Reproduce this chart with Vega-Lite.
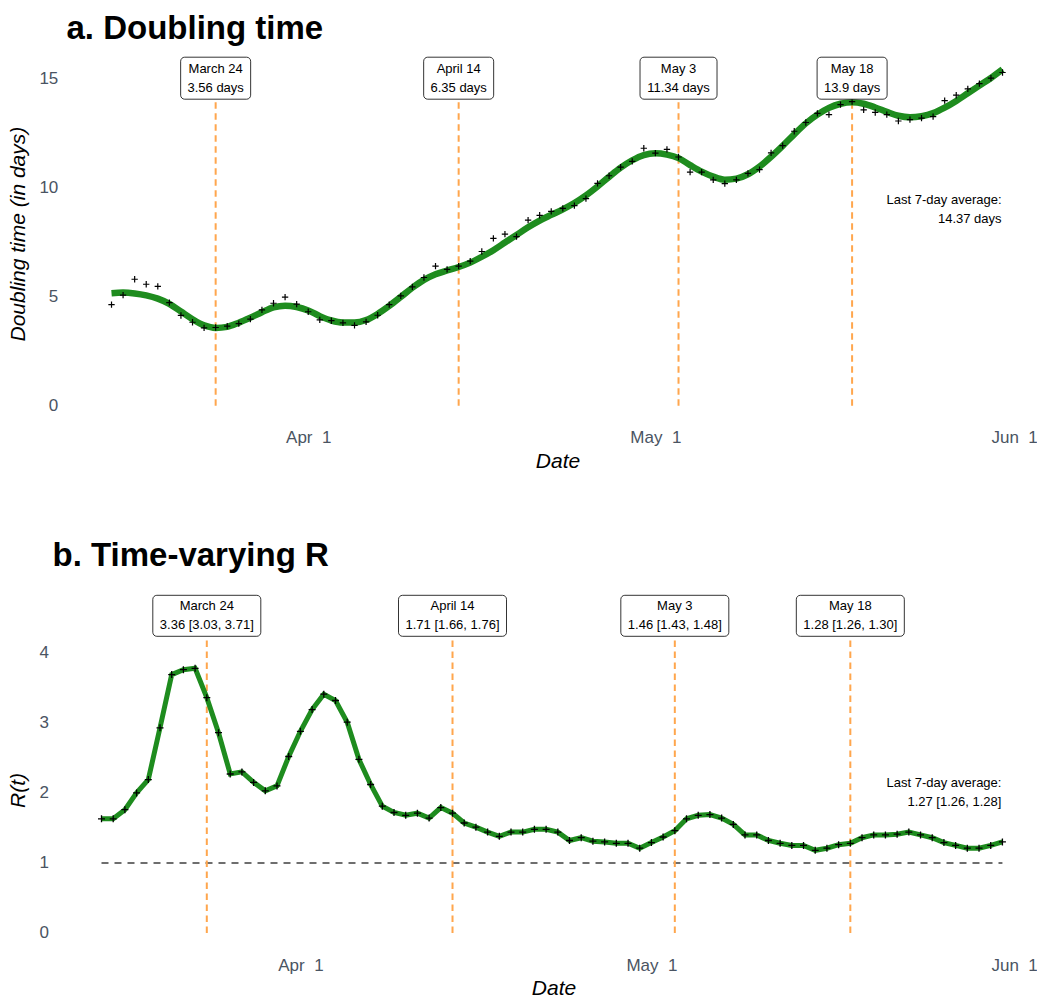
{
  "$schema": "https://vega.github.io/schema/vega-lite/v6.json",
  "padding": {"left": 7.5, "top": 12, "right": 5, "bottom": 0},
  "background": "white",
  "spacing": 67,
  "datasets": {
    "daily": [
      {"date": "2020-03-15", "dt": 4.63, "dt_smooth": 5.15, "R": 1.63},
      {"date": "2020-03-16", "dt": 5.06, "dt_smooth": 5.18, "R": 1.63},
      {"date": "2020-03-17", "dt": 5.79, "dt_smooth": 5.14, "R": 1.76},
      {"date": "2020-03-18", "dt": 5.56, "dt_smooth": 5.05, "R": 2.00},
      {"date": "2020-03-19", "dt": 5.46, "dt_smooth": 4.90, "R": 2.19},
      {"date": "2020-03-20", "dt": 4.72, "dt_smooth": 4.66, "R": 2.93},
      {"date": "2020-03-21", "dt": 4.13, "dt_smooth": 4.31, "R": 3.69},
      {"date": "2020-03-22", "dt": 3.82, "dt_smooth": 3.96, "R": 3.76},
      {"date": "2020-03-23", "dt": 3.56, "dt_smooth": 3.68, "R": 3.78},
      {"date": "2020-03-24", "dt": 3.58, "dt_smooth": 3.56, "R": 3.36},
      {"date": "2020-03-25", "dt": 3.64, "dt_smooth": 3.61, "R": 2.86},
      {"date": "2020-03-26", "dt": 3.76, "dt_smooth": 3.80, "R": 2.27},
      {"date": "2020-03-27", "dt": 3.96, "dt_smooth": 4.03, "R": 2.30},
      {"date": "2020-03-28", "dt": 4.39, "dt_smooth": 4.28, "R": 2.15},
      {"date": "2020-03-29", "dt": 4.69, "dt_smooth": 4.50, "R": 2.03},
      {"date": "2020-03-30", "dt": 4.97, "dt_smooth": 4.58, "R": 2.10},
      {"date": "2020-03-31", "dt": 4.65, "dt_smooth": 4.52, "R": 2.52},
      {"date": "2020-04-01", "dt": 4.30, "dt_smooth": 4.36, "R": 2.88},
      {"date": "2020-04-02", "dt": 3.93, "dt_smooth": 4.10, "R": 3.19},
      {"date": "2020-04-03", "dt": 3.89, "dt_smooth": 3.90, "R": 3.41},
      {"date": "2020-04-04", "dt": 3.79, "dt_smooth": 3.81, "R": 3.32},
      {"date": "2020-04-05", "dt": 3.68, "dt_smooth": 3.81, "R": 3.01},
      {"date": "2020-04-06", "dt": 3.84, "dt_smooth": 3.92, "R": 2.48},
      {"date": "2020-04-07", "dt": 4.14, "dt_smooth": 4.20, "R": 2.12},
      {"date": "2020-04-08", "dt": 4.63, "dt_smooth": 4.57, "R": 1.81},
      {"date": "2020-04-09", "dt": 5.03, "dt_smooth": 4.98, "R": 1.72},
      {"date": "2020-04-10", "dt": 5.44, "dt_smooth": 5.40, "R": 1.68},
      {"date": "2020-04-11", "dt": 5.87, "dt_smooth": 5.76, "R": 1.71},
      {"date": "2020-04-12", "dt": 6.39, "dt_smooth": 6.02, "R": 1.64},
      {"date": "2020-04-13", "dt": 6.24, "dt_smooth": 6.19, "R": 1.79},
      {"date": "2020-04-14", "dt": 6.39, "dt_smooth": 6.35, "R": 1.71},
      {"date": "2020-04-15", "dt": 6.62, "dt_smooth": 6.55, "R": 1.57},
      {"date": "2020-04-16", "dt": 7.06, "dt_smooth": 6.82, "R": 1.51},
      {"date": "2020-04-17", "dt": 7.66, "dt_smooth": 7.12, "R": 1.44},
      {"date": "2020-04-18", "dt": 7.86, "dt_smooth": 7.47, "R": 1.38},
      {"date": "2020-04-19", "dt": 7.74, "dt_smooth": 7.82, "R": 1.44},
      {"date": "2020-04-20", "dt": 8.50, "dt_smooth": 8.17, "R": 1.44},
      {"date": "2020-04-21", "dt": 8.72, "dt_smooth": 8.48, "R": 1.48},
      {"date": "2020-04-22", "dt": 8.90, "dt_smooth": 8.74, "R": 1.48},
      {"date": "2020-04-23", "dt": 9.04, "dt_smooth": 8.99, "R": 1.44},
      {"date": "2020-04-24", "dt": 9.16, "dt_smooth": 9.28, "R": 1.32},
      {"date": "2020-04-25", "dt": 9.48, "dt_smooth": 9.63, "R": 1.36},
      {"date": "2020-04-26", "dt": 10.18, "dt_smooth": 10.04, "R": 1.31},
      {"date": "2020-04-27", "dt": 10.53, "dt_smooth": 10.48, "R": 1.30},
      {"date": "2020-04-28", "dt": 10.93, "dt_smooth": 10.90, "R": 1.28},
      {"date": "2020-04-29", "dt": 11.19, "dt_smooth": 11.24, "R": 1.28},
      {"date": "2020-04-30", "dt": 11.79, "dt_smooth": 11.48, "R": 1.21},
      {"date": "2020-05-01", "dt": 11.57, "dt_smooth": 11.56, "R": 1.29},
      {"date": "2020-05-02", "dt": 11.74, "dt_smooth": 11.50, "R": 1.37},
      {"date": "2020-05-03", "dt": 11.39, "dt_smooth": 11.34, "R": 1.46},
      {"date": "2020-05-04", "dt": 10.70, "dt_smooth": 11.02, "R": 1.63},
      {"date": "2020-05-05", "dt": 10.70, "dt_smooth": 10.72, "R": 1.68},
      {"date": "2020-05-06", "dt": 10.34, "dt_smooth": 10.49, "R": 1.69},
      {"date": "2020-05-07", "dt": 10.17, "dt_smooth": 10.35, "R": 1.64},
      {"date": "2020-05-08", "dt": 10.34, "dt_smooth": 10.40, "R": 1.55},
      {"date": "2020-05-09", "dt": 10.64, "dt_smooth": 10.60, "R": 1.40},
      {"date": "2020-05-10", "dt": 10.81, "dt_smooth": 10.95, "R": 1.40},
      {"date": "2020-05-11", "dt": 11.58, "dt_smooth": 11.40, "R": 1.32},
      {"date": "2020-05-12", "dt": 11.91, "dt_smooth": 11.90, "R": 1.28},
      {"date": "2020-05-13", "dt": 12.57, "dt_smooth": 12.43, "R": 1.25},
      {"date": "2020-05-14", "dt": 12.97, "dt_smooth": 12.93, "R": 1.25},
      {"date": "2020-05-15", "dt": 13.39, "dt_smooth": 13.33, "R": 1.18},
      {"date": "2020-05-16", "dt": 13.33, "dt_smooth": 13.64, "R": 1.21},
      {"date": "2020-05-17", "dt": 13.79, "dt_smooth": 13.83, "R": 1.26},
      {"date": "2020-05-18", "dt": 13.93, "dt_smooth": 13.90, "R": 1.28},
      {"date": "2020-05-19", "dt": 13.55, "dt_smooth": 13.83, "R": 1.36},
      {"date": "2020-05-20", "dt": 13.43, "dt_smooth": 13.66, "R": 1.40},
      {"date": "2020-05-21", "dt": 13.33, "dt_smooth": 13.46, "R": 1.40},
      {"date": "2020-05-22", "dt": 13.04, "dt_smooth": 13.28, "R": 1.41},
      {"date": "2020-05-23", "dt": 13.10, "dt_smooth": 13.21, "R": 1.44},
      {"date": "2020-05-24", "dt": 13.17, "dt_smooth": 13.26, "R": 1.40},
      {"date": "2020-05-25", "dt": 13.24, "dt_smooth": 13.40, "R": 1.36},
      {"date": "2020-05-26", "dt": 13.97, "dt_smooth": 13.65, "R": 1.29},
      {"date": "2020-05-27", "dt": 14.22, "dt_smooth": 13.96, "R": 1.25},
      {"date": "2020-05-28", "dt": 14.51, "dt_smooth": 14.31, "R": 1.21},
      {"date": "2020-05-29", "dt": 14.75, "dt_smooth": 14.66, "R": 1.21},
      {"date": "2020-05-30", "dt": 15.00, "dt_smooth": 15.01, "R": 1.25},
      {"date": "2020-05-31", "dt": 15.26, "dt_smooth": 15.40, "R": 1.30}
    ],
    "topLabels": [
      {"date": "2020-03-24", "event": "March 24", "text": "March 24\n3.56 days"},
      {"date": "2020-04-14", "event": "April 14", "text": "April 14\n6.35 days"},
      {"date": "2020-05-03", "event": "May 3", "text": "May 3\n11.34 days"},
      {"date": "2020-05-18", "event": "May 18", "text": "May 18\n13.9 days"}
    ],
    "botLabels": [
      {"date": "2020-03-24", "event": "March 24", "text": "March 24\n3.36 [3.03, 3.71]"},
      {"date": "2020-04-14", "event": "April 14", "text": "April 14\n1.71 [1.66, 1.76]"},
      {"date": "2020-05-03", "event": "May 3", "text": "May 3\n1.46 [1.43, 1.48]"},
      {"date": "2020-05-18", "event": "May 18", "text": "May 18\n1.28 [1.26, 1.30]"}
    ],
    "avg": [
      {"date": "2020-05-31", "panel": "a", "text": "Last 7-day average:\n14.37 days"},
      {"date": "2020-05-31", "panel": "b", "text": "Last 7-day average:\n1.27 [1.26, 1.28]"}
    ],
    "threshold": [
      {"date": "2020-03-15", "date2": "2020-05-31"}
    ]
  },
  "vconcat": [
    {
      "width": 970,
      "height": 370,
      "title": {"text": "a. Doubling time", "anchor": "start", "frame": "group", "fontSize": 33, "fontWeight": "bold", "font": "Liberation Sans", "color": "black", "baseline": "alphabetic", "offset": -19.5, "dx": 4},
      "encoding": {
        "x": {
          "field": "date", "type": "temporal", "title": "Date",
          "scale": {"type": "utc", "domain": [
            {"year": 2020, "month": 3, "date": 10, "hours": 18, "minutes": 21, "utc": true},
            {"year": 2020, "month": 6, "date": 2, "hours": 14, "minutes": 10, "utc": true}
          ]},
          "axis": {
            "values": [
              {"year": 2020, "month": 4, "date": 1, "utc": true},
              {"year": 2020, "month": 5, "date": 1, "utc": true},
              {"year": 2020, "month": 6, "date": 1, "utc": true}
            ],
            "format": "%b\u00a0\u00a0%-d", "labelPadding": 7.4, "titlePadding": 4.7, "titleX": 495
          }
        }
      },
      "layer": [
        {
          "data": {"name": "topLabels"},
          "mark": {"type": "rule", "color": "#FFA64D", "strokeWidth": 2, "strokeDash": [6.5, 4.5]},
          "encoding": {"y": {"datum": 0}, "y2": {"datum": 15}}
        },
        {
          "data": {"name": "daily"},
          "mark": {"type": "line", "color": "#1E8C1E", "strokeWidth": 6.5, "interpolate": "monotone"},
          "encoding": {
            "y": {
              "field": "dt_smooth", "type": "quantitative", "title": "Doubling time (in days)",
              "scale": {"domain": [-0.75, 16.2], "nice": false, "zero": false},
              "axis": {"values": [0, 5, 10, 15], "format": "d", "labelPadding": 4.7, "titleX": -44, "titleY": 181.6, "titleBaseline": "middle"}
            }
          }
        },
        {
          "data": {"name": "daily"},
          "mark": {"type": "point", "shape": "M-1,0L1,0M0,-1L0,1", "filled": false, "stroke": "black", "strokeWidth": 1.2, "size": 40, "opacity": 1},
          "encoding": {"y": {"field": "dt", "type": "quantitative", "title": "Doubling time (in days)"}}
        },
        {
          "data": {"name": "topLabels"},
          "transform": [{"filter": "datum.event != 'May 3'"}],
          "mark": {"type": "rect", "width": 70, "height": 42, "fill": "white", "stroke": "black", "strokeWidth": 0.8, "cornerRadius": 4},
          "encoding": {"y": {"datum": 15}}
        },
        {
          "data": {"name": "topLabels"},
          "transform": [{"filter": "datum.event == 'May 3'"}],
          "mark": {"type": "rect", "width": 77, "height": 42, "fill": "white", "stroke": "black", "strokeWidth": 0.8, "cornerRadius": 4},
          "encoding": {"y": {"datum": 15}}
        },
        {
          "data": {"name": "topLabels"},
          "mark": {"type": "text", "lineBreak": "\n", "fontSize": 13, "lineHeight": 19, "baseline": "middle", "align": "center", "color": "black", "font": "Liberation Sans", "dy": -9.5},
          "encoding": {"y": {"datum": 15}, "text": {"field": "text"}}
        },
        {
          "data": {"name": "avg"},
          "transform": [{"filter": "datum.panel == 'a'"}],
          "mark": {"type": "text", "lineBreak": "\n", "fontSize": 13, "lineHeight": 19, "baseline": "middle", "align": "right", "color": "black", "font": "Liberation Sans", "dx": -1, "dy": -9.5},
          "encoding": {"y": {"datum": 9}, "text": {"field": "text"}}
        }
      ]
    },
    {
      "width": 970,
      "height": 350,
      "title": {"text": "b. Time-varying R", "anchor": "start", "frame": "group", "fontSize": 33, "fontWeight": "bold", "font": "Liberation Sans", "color": "black", "baseline": "alphabetic", "offset": -4, "dx": -10},
      "encoding": {
        "x": {
          "field": "date", "type": "temporal", "title": "Date",
          "scale": {"type": "utc", "domain": [
            {"year": 2020, "month": 3, "date": 11, "hours": 16, "minutes": 0, "utc": true},
            {"year": 2020, "month": 6, "date": 2, "hours": 13, "minutes": 41, "utc": true}
          ]},
          "axis": {
            "values": [
              {"year": 2020, "month": 4, "date": 1, "utc": true},
              {"year": 2020, "month": 5, "date": 1, "utc": true},
              {"year": 2020, "month": 6, "date": 1, "utc": true}
            ],
            "format": "%b\u00a0\u00a0%-d", "labelPadding": 8.7, "titlePadding": 3.7, "titleX": 491
          }
        }
      },
      "layer": [
        {
          "data": {"name": "threshold"},
          "mark": {"type": "rule", "color": "#6E6E6E", "strokeWidth": 2, "strokeDash": [7, 6]},
          "encoding": {"y": {"datum": 1}, "x2": {"field": "date2"}}
        },
        {
          "data": {"name": "botLabels"},
          "mark": {"type": "rule", "color": "#FFA64D", "strokeWidth": 2, "strokeDash": [6.5, 4.5]},
          "encoding": {"y": {"datum": 0}, "y2": {"datum": 4.53}}
        },
        {
          "data": {"name": "daily"},
          "mark": {"type": "line", "color": "#1E8C1E", "strokeWidth": 5},
          "encoding": {
            "y": {
              "field": "R", "type": "quantitative", "title": "R(t)",
              "scale": {"domain": [-0.23, 4.77], "nice": false, "zero": false},
              "axis": {"values": [0, 1, 2, 3, 4], "format": "d", "labelPadding": 14, "titleX": -44, "titleY": 191, "titleBaseline": "middle"}
            }
          }
        },
        {
          "data": {"name": "daily"},
          "mark": {"type": "point", "shape": "M-1,0L1,0M0,-1L0,1", "filled": false, "stroke": "black", "strokeWidth": 1.3, "size": 49, "opacity": 1},
          "encoding": {"y": {"field": "R", "type": "quantitative", "title": "R(t)"}}
        },
        {
          "data": {"name": "botLabels"},
          "mark": {"type": "rect", "width": 108, "height": 41, "fill": "white", "stroke": "black", "strokeWidth": 0.8, "cornerRadius": 4},
          "encoding": {"y": {"datum": 4.53}}
        },
        {
          "data": {"name": "botLabels"},
          "mark": {"type": "text", "lineBreak": "\n", "fontSize": 13, "lineHeight": 19, "baseline": "middle", "align": "center", "color": "black", "font": "Liberation Sans", "dy": -9.5},
          "encoding": {"y": {"datum": 4.53}, "text": {"field": "text"}}
        },
        {
          "data": {"name": "avg"},
          "transform": [{"filter": "datum.panel == 'b'"}],
          "mark": {"type": "text", "lineBreak": "\n", "fontSize": 13, "lineHeight": 19, "baseline": "middle", "align": "right", "color": "black", "font": "Liberation Sans", "dx": -1, "dy": -9.5},
          "encoding": {"y": {"datum": 2}, "text": {"field": "text"}}
        }
      ]
    }
  ],
  "config": {
    "view": {"stroke": null},
    "font": "Liberation Sans",
    "axis": {
      "domain": false, "ticks": false, "tickSize": 0, "grid": false,
      "labelFont": "Liberation Sans", "labelFontSize": 17, "labelColor": "#4A5462",
      "titleFont": "Liberation Sans", "titleFontSize": 21, "titleFontStyle": "italic", "titleFontWeight": "normal", "titleColor": "black"
    }
  }
}
